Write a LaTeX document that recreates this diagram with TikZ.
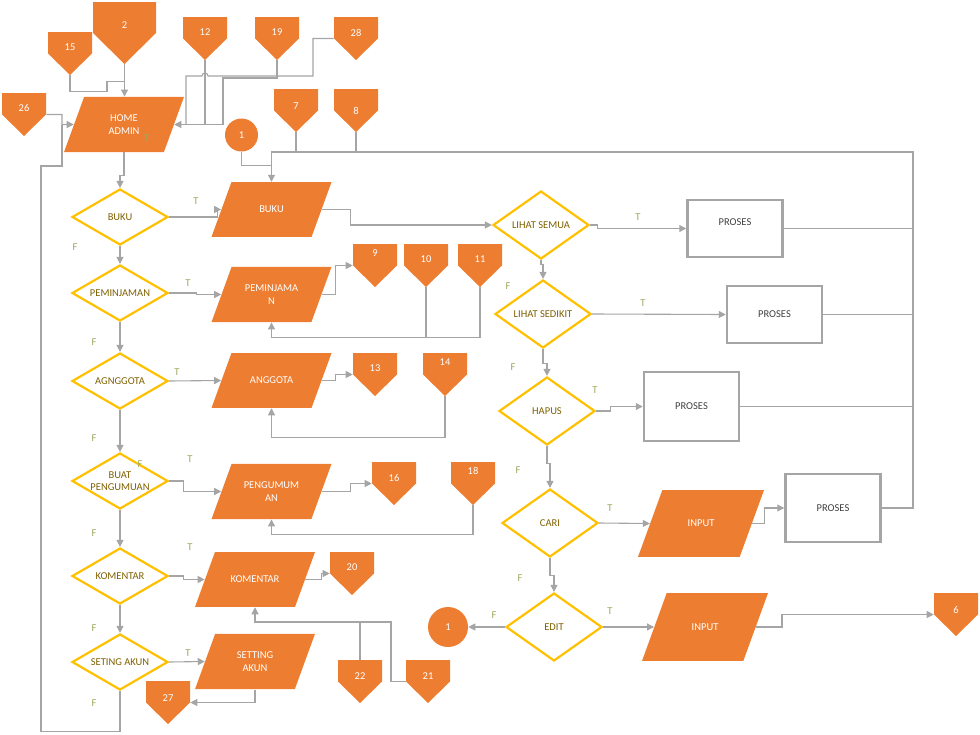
\documentclass[tikz,border=0pt]{standalone}
\usepackage{fontspec}
\setmainfont{Carlito}
\usetikzlibrary{shapes.geometric, arrows.meta}

\definecolor{flowor}{RGB}{237,125,49}
\definecolor{flowyl}{RGB}{255,192,0}
\definecolor{flowgr}{RGB}{165,165,165}
\definecolor{flowtx}{RGB}{127,96,0}
\definecolor{flowlb}{RGB}{155,170,95}
\definecolor{flowdk}{RGB}{64,64,64}

\begin{document}
\begin{tikzpicture}[
    x = 1pt, y = -1pt, % one unit per pixel, downwards
    > = {Triangle[length=7pt, width=7pt]}, % arrow head style
    semithick % line style
  ]

  \tikzstyle{every node}=[font = \fontsize{10.5}{12.5}\selectfont, inner sep = 0pt]
  \tikzstyle{link}=[draw = flowgr, line width = 1.1pt]
  \tikzstyle{choice}=[diamond, aspect = 1.7, draw = flowyl, line width = 2.2pt,
    fill = white, text = flowtx, minimum width = 96, minimum height = 56, align = center]
  \tikzstyle{tallchoice}=[choice, minimum height = 68]
  \tikzstyle{data}=[trapezium, trapezium left angle = 70, trapezium right angle = 110,
    trapezium stretches body, fill = flowor, text = white, minimum width = 120,
    inner ysep = 24pt, align = center]
  \tikzstyle{data2}=[data, inner ysep = 18pt] % two lines of text
  \tikzstyle{proses}=[rectangle, draw = flowgr, line width = 2.5pt, fill = white,
    text = flowdk, minimum width = 95, minimum height = 57]
  \tikzstyle{joint}=[circle, fill = flowor, text = white, minimum size = 33]
  \tikzstyle{offpage}=[minimum width = 44, minimum height = 43, text = white, text depth = 12pt,
    path picture = {\fill[flowor] (path picture bounding box.north west)
      -- (path picture bounding box.north east) -- (path picture bounding box.east)
      -- (path picture bounding box.south) -- (path picture bounding box.west) -- cycle;}]
  \tikzstyle{raised}=[text depth = 25pt]
  \tikzstyle{tf}=[text = flowlb]

  \useasboundingbox (0,0) rectangle (980,734);

  % main menu
  \node[data2] (home) at (124,124.5) {HOME\\ADMIN};
  \node[choice] (qbuku) at (120,217) {BUKU};
  \node[choice] (qpinjam) at (120,293) {PEMINJAMAN};
  \node[choice] (qanggota) at (120,381) {AGNGGOTA};
  \node[choice] (qumum) at (120,481) {BUAT\\PENGUMUAN};
  \node[choice] (qkomen) at (120,576) {KOMENTAR};
  \node[choice] (qakun) at (120,662) {SETING AKUN};

  \node[data] (pbuku) at (271.5,209.5) {BUKU};
  \node[data2] (ppinjam) at (271.5,294.5) {PEMINJAMA\\N};
  \node[data] (panggota) at (271.5,380.5) {ANGGOTA};
  \node[data2] (pumum) at (271.5,491.5) {PENGUMUM\\AN};
  \node[data] (pkomen) at (255,579.5) {KOMENTAR};
  \node[data2] (pakun) at (255,661.5) {SETTING\\AKUN};

  % book menu
  \node[tallchoice] (qsemua) at (541,225) {LIHAT SEMUA};
  \node[tallchoice] (qsedikit) at (543,314) {LIHAT SEDIKIT};
  \node[tallchoice] (qhapus) at (547,411) {HAPUS};
  \node[tallchoice] (qcari) at (550,523) {CARI};
  \node[tallchoice] (qedit) at (554,627) {EDIT};

  \node[proses, text depth = 13pt] (pr1) at (735,228.5) {PROSES};
  \node[proses] (pr2) at (774.5,314.5) {PROSES};
  \node[proses, minimum height = 69] (pr3) at (691.5,406.5) {PROSES};
  \node[proses, minimum height = 68] (pr4) at (833,508) {PROSES};
  \node[data, minimum width = 126, inner ysep = 30pt] (in1) at (701,523.5) {INPUT};
  \node[data, minimum width = 126, inner ysep = 30.5pt] (in2) at (705,627) {INPUT};

  \node[joint] (c1a) at (241.5,135) {1};
  \node[joint, minimum size = 40] (c1b) at (448,627) {1};

  % off page connectors
  \node[offpage, minimum width = 63, minimum height = 62, text depth = 16pt] (o2) at (124.5,33) {2};
  \node[offpage] (o15) at (70,53.5) {15};
  \node[offpage] (o12) at (205,38.5) {12};
  \node[offpage] (o19) at (277,38.5) {19};
  \node[offpage] (o28) at (356,38.5) {28};
  \node[offpage, text depth = 13pt] (o26) at (24,114.5) {26};
  \node[offpage, text depth = 9pt] (o7) at (296,110.5) {7};
  \node[offpage, text depth = 0pt] (o8) at (356,110.5) {8};
  \node[offpage, raised] (o9) at (375,265.5) {9};
  \node[offpage] (o10) at (426,265.5) {10};
  \node[offpage] (o11) at (480,265.5) {11};
  \node[offpage] (o13) at (375,374.5) {13};
  \node[offpage, raised] (o14) at (445,374.5) {14};
  \node[offpage] (o16) at (394,483.5) {16};
  \node[offpage, raised] (o18) at (473,483.5) {18};
  \node[offpage] (o20) at (352,573.5) {20};
  \node[offpage, text depth = 11pt] (o22) at (360,681.5) {22};
  \node[offpage, text depth = 11pt] (o21) at (428,681.5) {21};
  \node[offpage, text depth = 9pt] (o27) at (168,702.5) {27};
  \node[offpage, text depth = 9pt] (o6) at (956,614.5) {6};

  \coordinate (bus) at (913,152);

  % into home admin
  \draw[link, ->] (o2.south) -- (o2.south |- home.north);
  \draw[link] (o15.south) -- ++(0,16) -- ++(37,0) -- ++(0,-10) -- ++(18,0);
  \draw[link] (o12.south) -- (o12.south |- home.east);
  \draw[link, ->] (o19.south) |- (223,78) |- (home.east);
  \draw[link] (o28.west) -| (313,76) -- (208,76) arc (0:-180:3) -- (186,76) -- (186,124.5);
  \draw[link, ->] (o26.east) -| (62,124.5) -- (home.west);
  \draw[link] (qakun.south) -- ++(0,40) -| (41,166) -| (62,124.5);
  \draw[link, ->] (home.south) -- ++(0,23) -| (qbuku.north);

  % menu chain
  \draw[link, ->] (qbuku.south) -- (qpinjam.north);
  \draw[link, ->] (qpinjam.south) -- (qanggota.north);
  \draw[link, ->] (qanggota.south) -- (qumum.north);
  \draw[link, ->] (qumum.south) -- (qkomen.north);
  \draw[link, ->] (qkomen.south) -- (qakun.north);

  \draw[link, ->] (qbuku.east) -- ++(48,0) |- (pbuku.west);
  \draw[link, ->] (qpinjam.east) -- ++(27,0) |- (ppinjam.west);
  \draw[link, ->] (qanggota.east) -- (panggota.west);
  \draw[link, ->] (qumum.east) -- ++(14,0) |- (pumum.west);
  \draw[link, ->] (qkomen.east) -- ++(14,0) |- (pkomen.west);
  \draw[link, ->] (qakun.east) -- (pakun.west);

  \draw[link, ->] (ppinjam.east) -- ++(14,0) |- (o9.west);
  \draw[link] (o10.south) -- ++(0,50);
  \draw[link, ->] (o11.south) -- ++(0,50) -| (ppinjam.south);
  \draw[link, ->] (panggota.east) -- ++(14,0) |- (o13.west);
  \draw[link, ->] (o14.south) -- ++(0,41) -| (panggota.south);
  \draw[link, ->] (pumum.east) -- ++(29,0) |- (o16.west);
  \draw[link, ->] (o18.south) -- ++(0,29) -| (pumum.south);
  \draw[link, ->] (pkomen.east) -- ++(16,0) |- (o20.west);
  \draw[link] (o22.north) -- ++(0,-38);
  \draw[link, ->] (o21.west) -| (391,622) -| (pkomen.south);
  \draw[link, ->] (pakun.south) |- (o27.east);

  % book menu
  \draw[link] (o7.south) -- (o7.south |- bus);
  \draw[link] (o8.south) -- (o8.south |- bus);
  \draw[link] (c1a.south) |- ([yshift=16pt]pbuku.north);
  \draw[link, ->] (pr4.east) -| (bus) -| (pbuku.north);
  \draw[link] (pr1.east) -- (pr1.east -| bus);
  \draw[link] (pr2.east) -- (pr2.east -| bus);
  \draw[link] (pr3.east) -- (pr3.east -| bus);

  \draw[link, ->] (pbuku.east) -- ++(29,0) |- (qsemua.west);
  \draw[link, ->] (qsemua.east) -- ++(7,0) |- (pr1.west);
  \draw[link, ->] (qsemua.south) -- ++(0,4) -| (qsedikit.north);
  \draw[link, ->] (qsedikit.east) -- (pr2.west);
  \draw[link, ->] (qsedikit.south) -- ++(0,14) -| (qhapus.north);
  \draw[link, ->] (qhapus.east) -- ++(14,0) |- (pr3.west);
  \draw[link, ->] (qhapus.south) -- ++(0,17) -| (qcari.north);
  \draw[link, ->] (qcari.east) -- (in1.west);
  \draw[link, ->] (in1.east) -- ++(12,0) |- (pr4.west);
  \draw[link, ->] (qcari.south) -- ++(0,17) -| (qedit.north);
  \draw[link, ->] (qedit.west) -- (c1b.east);
  \draw[link, ->] (qedit.east) -- (in2.west);
  \draw[link, ->] (in2.east) -- ++(26,0) |- (o6.west);

  % T and F marks
  \node[tf] (t0) at (147,138) {T};
  \node[tf] (t1) at (196,201) {T};
  \node[tf] (t2) at (188,283) {T};
  \node[tf] (t3) at (177,372) {T};
  \node[tf] (t4) at (190,459) {T};
  \node[tf] (t5) at (190,547) {T};
  \node[tf] (t6) at (188,653) {T};
  \node[tf] (f1) at (75,247) {F};
  \node[tf] (f2) at (94,342) {F};
  \node[tf] (f3) at (94,438) {F};
  \node[tf] (f0) at (140,464) {F};
  \node[tf] (f4) at (94,533) {F};
  \node[tf] (f5) at (94,628) {F};
  \node[tf] (f6) at (94,703) {F};
  \node[tf] (t7) at (638,217) {T};
  \node[tf] (t8) at (643,303) {T};
  \node[tf] (t9) at (595,390) {T};
  \node[tf] (t10) at (610,508) {T};
  \node[tf] (t11) at (610,611) {T};
  \node[tf] (f7) at (508,286) {F};
  \node[tf] (f8) at (513,367) {F};
  \node[tf] (f9) at (518,470) {F};
  \node[tf] (f10) at (520,578) {F};
  \node[tf] (f11) at (494,615) {F};

\end{tikzpicture}
\end{document}
